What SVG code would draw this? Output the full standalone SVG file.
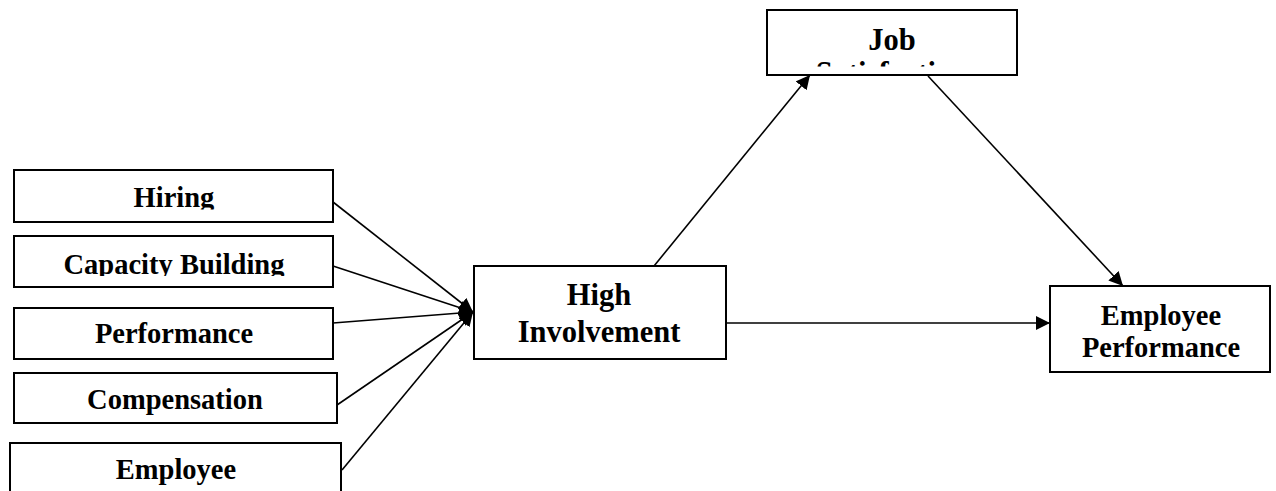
<svg xmlns="http://www.w3.org/2000/svg" width="1276" height="491" viewBox="0 0 1276 491">
  <style>
    .box { fill: #fff; stroke: #000; stroke-width: 2; }
    .lbl { font-family: "Liberation Serif", "Times New Roman", serif; font-weight: bold; font-size: 28.5px; fill: #000; text-anchor: middle; }
    .big { font-size: 30.5px; }
    .conn { stroke: #000; stroke-width: 1.6; fill: none; marker-end: url(#arrow); }
  </style>
  <defs>
    <marker id="arrow" markerUnits="userSpaceOnUse" markerWidth="14" markerHeight="14" refX="14" refY="7" orient="auto">
      <path d="M0,0 L14,7 L0,14 z" fill="#000"/>
    </marker>
    <clipPath id="clipJob"><rect x="767" y="10" width="250" height="56.5"/></clipPath>
    <clipPath id="clipHiring"><rect x="14" y="170" width="319" height="39.5"/></clipPath>
    <clipPath id="clipCap"><rect x="14" y="236" width="319" height="40"/></clipPath>
  </defs>
  <rect width="1276" height="491" fill="#fff"/>

  <g id="connectors">
    <line class="conn" x1="333" y1="202" x2="473" y2="312"/>
    <line class="conn" x1="333" y1="266" x2="473" y2="312"/>
    <line class="conn" x1="333" y1="323" x2="473" y2="312"/>
    <line class="conn" x1="337" y1="405" x2="473" y2="312"/>
    <line class="conn" x1="342" y1="470" x2="473" y2="312"/>
    <line class="conn" x1="654" y1="266" x2="810" y2="75"/>
    <line class="conn" x1="928" y1="76" x2="1123" y2="286"/>
    <line class="conn" x1="726" y1="323" x2="1050" y2="323"/>
  </g>

  <g id="node-job">
    <rect class="box" x="767" y="10" width="250" height="65"/>
    <g clip-path="url(#clipJob)">
      <text class="lbl big" x="892" y="50">Job</text>
      <text class="lbl big" x="892" y="83">Satisfaction</text>
    </g>
  </g>

  <g id="node-hiring">
    <rect class="box" x="14" y="170" width="319" height="52"/>
    <text class="lbl" x="174" y="207" clip-path="url(#clipHiring)">Hiring</text>
  </g>

  <g id="node-capacity">
    <rect class="box" x="14" y="236" width="319" height="51"/>
    <text class="lbl" x="174" y="274" clip-path="url(#clipCap)">Capacity Building</text>
  </g>

  <g id="node-performance">
    <rect class="box" x="14" y="308" width="319" height="51"/>
    <text class="lbl" x="174" y="343">Performance</text>
  </g>

  <g id="node-compensation">
    <rect class="box" x="14" y="373" width="323" height="50"/>
    <text class="lbl" x="175" y="409">Compensation</text>
  </g>

  <g id="node-employee">
    <rect class="box" x="10" y="443" width="331" height="60"/>
    <text class="lbl" x="176" y="479">Employee</text>
  </g>

  <g id="node-high-involvement">
    <rect class="box" x="474" y="266" width="252" height="93"/>
    <text class="lbl big" x="599" y="305">High</text>
    <text class="lbl big" x="599" y="342">Involvement</text>
  </g>

  <g id="node-employee-performance">
    <rect class="box" x="1050" y="286" width="220" height="86"/>
    <text class="lbl" x="1161" y="325">Employee</text>
    <text class="lbl" x="1161" y="357">Performance</text>
  </g>
</svg>
